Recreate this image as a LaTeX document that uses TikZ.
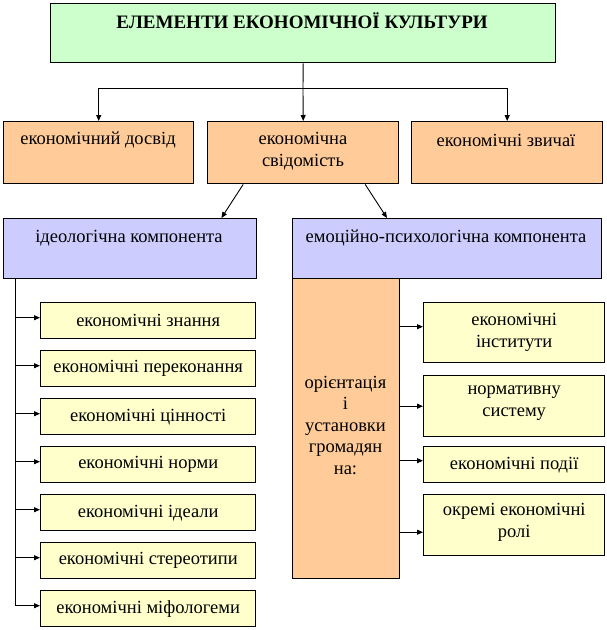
\documentclass[tikz,border=0pt]{standalone}
\usepackage{fontspec}
\setmainfont{Liberation Serif}
\usetikzlibrary{arrows.meta,calc}
\definecolor{cgreen}{HTML}{CCFFCC}
\definecolor{corange}{HTML}{FFCC99}
\definecolor{cblue}{HTML}{CCCCFF}
\definecolor{cyellow}{HTML}{FFFFCC}
\begin{document}
\begin{tikzpicture}[x=1pt,y=-1pt,
  box/.style={draw,line width=1.4pt,inner sep=0pt,anchor=north west},
  txt/.style={inner sep=0pt,align=center,font=\rmfamily\fontsize{18.5}{22}\selectfont},
  arr/.style={line width=0.9pt,-{Triangle[length=6pt,width=5pt]}},
  ln/.style={line width=0.9pt}]
\useasboundingbox[fill=white] (0,0) rectangle (606,630);
% top
\node[box,fill=cgreen,minimum width=505pt,minimum height=59pt] (top) at (50,3) {};
\node[txt,font=\rmfamily\fontsize{19}{22}\bfseries] (toptx) at (302,21) {ЕЛЕМЕНТИ ЕКОНОМІЧНОЇ КУЛЬТУРИ};
% row 2
\node[box,fill=corange,minimum width=190pt,minimum height=62pt] (d1) at (3,121) {};
\node[box,fill=corange,minimum width=191pt,minimum height=62pt] (d2) at (207,121) {};
\node[box,fill=corange,minimum width=191pt,minimum height=62pt] (d3) at (411,121) {};
\node[txt] (d1t) at (98,140) {економічний досвід};
\node[txt] (d2t) at (303,151) {економічна\\свідомість};
\node[txt] (d3t) at (506,140) {економічні звичаї};
% connectors top
\coordinate (j) at (303,88);
\draw[ln] (top.south) -- (j);
\draw[arr] (j) -| (d1.north);
\draw[arr] (j) -- (d2.north);
\draw[arr] (j) -| (d3.north);
% blue
\node[box,fill=cblue,minimum width=253pt,minimum height=60pt] (ideo) at (3,218) {};
\node[box,fill=cblue,minimum width=309pt,minimum height=60pt] (emo) at (292,218) {};
\node[txt] (ideot) at (129,238) {ідеологічна компонента};
\node[txt] (emot) at (446,238) {емоційно-психологічна компонента};
\draw[arr] ($(d2.south)+(-60,0)$) -- ($(ideo.north east)+(-36,0)$);
\draw[arr] ($(d2.south)+(62,0)$) -- ($(emo.north west)+(95,0)$);
% left list
\coordinate (vl) at ($(ideo.south west)+(12,0)$);
\foreach \n/\y/\t in {k1/302/економічні знання,k2/350/економічні переконання,k3/398/економічні цінності,k4/446/економічні норми,k5/494/економічні ідеали,k6/542/економічні стереотипи,k7/590/економічні міфологеми}{
  \node[box,fill=cyellow,minimum width=215pt,minimum height=36pt] (\n) at (40,\y) {};
  \node[txt] at (\n.center) {\t};
  \draw[arr] (vl) |- ($(\n.west)+(0,-3)$);
}
% orange tall
\node[box,fill=corange,minimum width=107pt,minimum height=300pt] (ori) at (292,278) {};
\node[txt,font=\rmfamily\fontsize{18.5}{21.5}\selectfont] (orit) at (345.5,425) {орієнтація\\і\\установки\\громадян\\на:};
% right list
\node[box,fill=cyellow,minimum width=181pt,minimum height=60pt] (r1) at (423,302) {};
\node[txt] at (r1.center) {економічні\\інститути};
\node[box,fill=cyellow,minimum width=181pt,minimum height=61pt] (r2) at (423,375) {};
\node[txt] at ($(r2.center)+(0,-3)$) {нормативну\\систему};
\node[box,fill=cyellow,minimum width=181pt,minimum height=36pt] (r3) at (423,446) {};
\node[txt] at (r3.center) {економічні події};
\node[box,fill=cyellow,minimum width=181pt,minimum height=61pt] (r4) at (423,494) {};
\node[txt] at ($(r4.center)+(0,-3)$) {окремі економічні\\ролі};
\coordinate (a1) at ($(r1.west)+(0,-6)$);
\coordinate (a2) at ($(r2.west)+(0,0)$);
\coordinate (a3) at ($(r3.west)+(0,-4)$);
\coordinate (a4) at ($(r4.west)+(0,7)$);
\foreach \a in {a1,a2,a3,a4}{
  \draw[arr] (\a -| ori.east) -- (\a);
}
\end{tikzpicture}
\end{document}
